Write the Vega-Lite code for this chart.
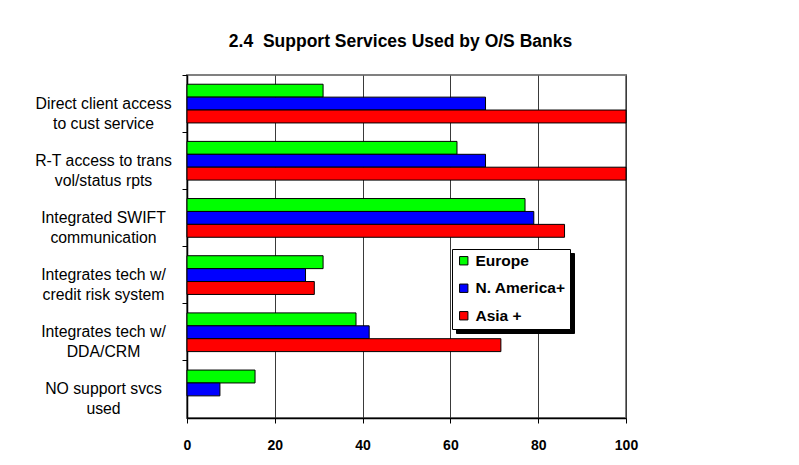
{
  "$schema": "https://vega.github.io/schema/vega-lite/v6.json",
  "autosize": {"type": "none"},
  "width": 439,
  "height": 343,
  "padding": {"left": 187, "top": 75, "right": 173, "bottom": 47},
  "background": "white",
  "title": {
    "text": "2.4\u00a0\u00a0Support Services Used by O/S Banks",
    "font": "Liberation Sans",
    "fontSize": 17.5,
    "fontWeight": "bold",
    "color": "black",
    "anchor": "middle",
    "baseline": "alphabetic",
    "offset": 10,
    "dx": -6
  },
  "config": {
    "view": {"stroke": "#808080", "strokeWidth": 2},
    "font": "Liberation Sans"
  },
  "data": {
    "values": [
      {"service": "Direct client access|to cust service", "region": "Europe", "pct": 31},
      {"service": "Direct client access|to cust service", "region": "N. America+", "pct": 68},
      {"service": "Direct client access|to cust service", "region": "Asia +", "pct": 100},
      {"service": "R-T access to trans|vol/status rpts", "region": "Europe", "pct": 61.5},
      {"service": "R-T access to trans|vol/status rpts", "region": "N. America+", "pct": 68},
      {"service": "R-T access to trans|vol/status rpts", "region": "Asia +", "pct": 100},
      {"service": "Integrated SWIFT|communication", "region": "Europe", "pct": 77},
      {"service": "Integrated SWIFT|communication", "region": "N. America+", "pct": 79},
      {"service": "Integrated SWIFT|communication", "region": "Asia +", "pct": 86},
      {"service": "Integrates tech w/|credit risk system", "region": "Europe", "pct": 31},
      {"service": "Integrates tech w/|credit risk system", "region": "N. America+", "pct": 27},
      {"service": "Integrates tech w/|credit risk system", "region": "Asia +", "pct": 29},
      {"service": "Integrates tech w/|DDA/CRM", "region": "Europe", "pct": 38.5},
      {"service": "Integrates tech w/|DDA/CRM", "region": "N. America+", "pct": 41.5},
      {"service": "Integrates tech w/|DDA/CRM", "region": "Asia +", "pct": 71.5},
      {"service": "NO support svcs|used", "region": "Europe", "pct": 15.5},
      {"service": "NO support svcs|used", "region": "N. America+", "pct": 7.5}
    ]
  },
  "encoding": {
    "y": {
      "field": "service",
      "type": "nominal",
      "sort": [
        "Direct client access|to cust service",
        "R-T access to trans|vol/status rpts",
        "Integrated SWIFT|communication",
        "Integrates tech w/|credit risk system",
        "Integrates tech w/|DDA/CRM",
        "NO support svcs|used"
      ],
      "scale": {"paddingInner": 0, "paddingOuter": 0},
      "axis": {
        "title": null,
        "labelExpr": "split(datum.label, '|')",
        "labelAlign": "center",
        "labelBaseline": "middle",
        "labelFontSize": 15.8,
        "labelLineHeight": 20,
        "labelColor": "black",
        "labelPadding": 79,
        "labelFont": "Liberation Sans",
        "tickSize": 5,
        "tickColor": "black",
        "bandPosition": 0,
        "domainColor": "black",
        "domainWidth": 1.5,
        "grid": false,
        "labelLimit": 300
      }
    },
    "yOffset": {
      "field": "region",
      "type": "nominal",
      "sort": ["Europe", "N. America+", "Asia +"],
      "scale": {"paddingInner": 0, "paddingOuter": 0.715}
    },
    "x": {
      "field": "pct",
      "type": "quantitative",
      "scale": {"domain": [0, 100], "nice": false},
      "axis": {
        "title": null,
        "values": [0, 20, 40, 60, 80, 100],
        "grid": true,
        "gridColor": "#3a3a3a",
        "gridWidth": 1,
        "labelFont": "Liberation Sans",
        "labelFontSize": 14,
        "labelFontWeight": "bold",
        "labelColor": "black",
        "labelPadding": 15,
        "labelFlush": false,
        "tickSize": 5,
        "tickColor": "black",
        "domainColor": "black",
        "domainWidth": 1.5
      }
    }
  },
  "layer": [
    {
      "mark": {"type": "bar", "opacity": 0, "strokeOpacity": 0},
      "encoding": {
        "color": {
          "field": "region",
          "type": "nominal",
          "sort": ["Europe", "N. America+", "Asia +"],
          "scale": {"range": ["black", "black", "black"]},
          "legend": {
            "title": null,
            "orient": "none",
            "legendX": 269,
            "legendY": 178,
            "zindex": 0,
            "direction": "vertical",
            "fillColor": "black",
            "strokeColor": "black",
            "padding": 4,
            "symbolType": "square",
            "symbolSize": 70,
            "symbolStrokeColor": "black",
            "symbolFillColor": "black",
            "symbolOpacity": 1,
            "labelExpr": "''",
            "labelFont": "Liberation Sans",
            "labelFontSize": 15.5,
            "labelFontWeight": "bold",
            "labelColor": "black",
            "labelOffset": 94,
            "rowPadding": 10.5
          }
        }
      }
    },
    {
      "mark": {"type": "bar", "stroke": "black", "strokeWidth": 1},
      "encoding": {
        "fill": {
          "field": "region",
          "type": "nominal",
          "sort": ["Europe", "N. America+", "Asia +"],
          "scale": {"domain": ["Europe", "N. America+", "Asia +"], "range": ["#00ff00", "#0000ff", "#ff0000"]},
          "legend": {
            "title": null,
            "orient": "none",
            "legendX": 265,
            "legendY": 174,
            "zindex": 1,
            "direction": "vertical",
            "fillColor": "white",
            "strokeColor": "black",
            "padding": 4,
            "symbolType": "square",
            "symbolSize": 70,
            "symbolStrokeColor": "black",
            "symbolStrokeWidth": 1,
            "symbolOpacity": 1,
            "labelFont": "Liberation Sans",
            "labelFontSize": 15.5,
            "labelFontWeight": "bold",
            "labelColor": "black",
            "labelOffset": 4,
            "rowPadding": 10.5
          }
        }
      }
    }
  ]
}
